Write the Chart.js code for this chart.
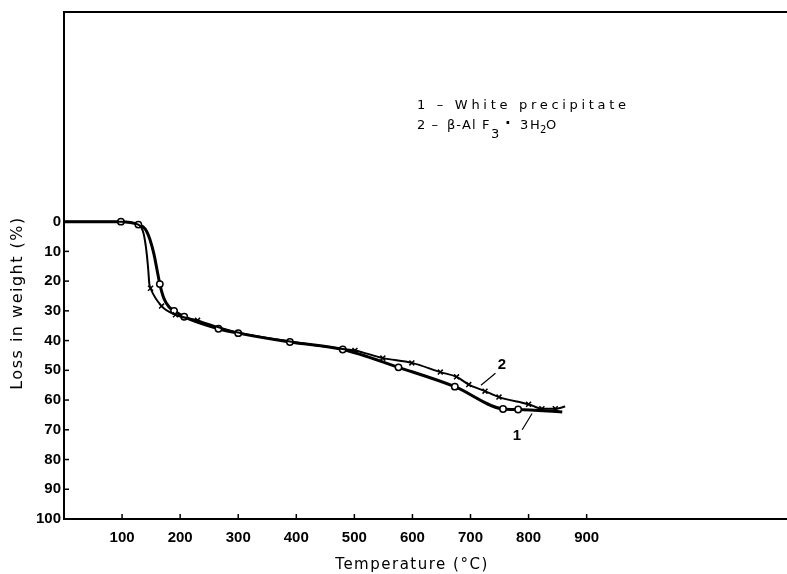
<!DOCTYPE html>
<html>
<head>
<meta charset="utf-8">
<script src="https://cdn.jsdelivr.net/npm/chart.js@4"></script>
<style>
  html, body { margin: 0; padding: 0; background: #fff; }
  canvas { display: block; }
</style>
</head>
<body>
<canvas id="tga" width="787" height="574"></canvas>
<script>
// Curva 1 - precipitado blanco (círculos)
const temp1 = [0, 98, 128, 140, 148, 155, 160, 165, 172, 181, 189.5, 207, 266, 300, 389, 480, 576, 673, 756, 782, 858];
const loss1 = [0, 0, 1, 2.5, 6, 11, 16, 21, 25.8, 28.7, 30, 32, 36, 37.5, 40.5, 43, 49, 55.5, 63, 63.2, 64];
const plain1 = [0, 140, 148, 155, 160, 172, 181, 858];

// Curva 2 - beta-AlF3·3H2O (cruces)
const temp2 = [0, 98, 128, 137, 142, 145, 147, 149, 168, 192, 230, 266, 300, 389, 480, 501, 549, 599, 648, 676, 697, 725, 749, 800, 823, 846, 863];
const loss2 = [0, 0, 1, 4, 10, 16, 21, 22.4, 28.4, 31.3, 33.2, 35.5, 37.3, 40.3, 42.8, 43.3, 45.9, 47.5, 50.6, 52.2, 54.8, 57, 59, 61.4, 62.9, 62.9, 62.2];
const plain2 = [0, 98, 128, 137, 142, 145, 147, 266, 300, 389, 480, 863];

// Ejes
const xTickLabels = [100, 200, 300, 400, 500, 600, 700, 800, 900];
const yTickLabels = [0, 10, 20, 30, 40, 50, 60, 70, 80, 90, 100];

const tickFont = { family: 'Liberation Sans', size: 15, weight: 'bold' };

// Dibujar marcas interiores, borde superior, títulos y leyenda
const extras = {
    id: 'extras',
    afterDraw(chart) {
        const ctx = chart.ctx;
        const area = chart.chartArea;
        const xs = chart.scales.x;
        const ys = chart.scales.y;
        ctx.save();
        ctx.strokeStyle = '#000';
        ctx.fillStyle = '#000';

        // borde superior
        ctx.lineWidth = 2;
        ctx.beginPath();
        ctx.moveTo(area.left, area.top);
        ctx.lineTo(area.right, area.top);
        ctx.stroke();

        // marcas hacia adentro
        ctx.lineWidth = 1.5;
        xTickLabels.forEach(v => {
            const px = xs.getPixelForValue(v);
            ctx.beginPath();
            ctx.moveTo(px, area.bottom);
            ctx.lineTo(px, area.bottom - 5);
            ctx.stroke();
        });
        yTickLabels.forEach(v => {
            const py = ys.getPixelForValue(v);
            ctx.beginPath();
            ctx.moveTo(area.left, py);
            ctx.lineTo(area.left + 5, py);
            ctx.stroke();
        });

        // títulos de ejes
        ctx.font = '15px "DejaVu Sans"';
        ctx.letterSpacing = '1.5px';
        ctx.textAlign = 'center';
        ctx.textBaseline = 'middle';
        ctx.fillText('Temperature (°C)', 412, 565);
        ctx.save();
        ctx.translate(18, 303);
        ctx.rotate(-Math.PI / 2);
        ctx.font = '16px "DejaVu Sans"';
        ctx.letterSpacing = '1.5px';
        ctx.fillText('Loss in weight (%)', 0, 0);
        ctx.restore();

        // leyenda
        ctx.textAlign = 'left';
        ctx.textBaseline = 'alphabetic';
        ctx.font = '13px "DejaVu Sans"';
        ctx.letterSpacing = '3.7px';
        ctx.fillText('1 – White precipitate', 417, 109);
        ctx.letterSpacing = '1px';
        ctx.fillText('2 –', 417, 129);
        ctx.fillText('β-Al', 447, 129);
        ctx.fillText('F', 482, 129);
        ctx.fillText('3', 491, 138);
        ctx.font = 'bold 15px "DejaVu Sans"';
        ctx.fillText('·', 505, 128);
        ctx.font = '13px "DejaVu Sans"';
        ctx.fillText('3', 520, 129);
        ctx.fillText('H', 530, 129);
        ctx.font = '10px "DejaVu Sans"';
        ctx.fillText('2', 540, 133);
        ctx.font = '13px "DejaVu Sans"';
        ctx.fillText('O', 546, 129);

        // etiquetas de curvas con líneas guía
        ctx.letterSpacing = '0px';
        ctx.font = 'bold 15px "Liberation Sans"';
        ctx.textAlign = 'center';
        ctx.textBaseline = 'middle';
        ctx.fillText('2', xs.getPixelForValue(754), ys.getPixelForValue(48));
        ctx.fillText('1', xs.getPixelForValue(780), ys.getPixelForValue(72));
        ctx.lineWidth = 1.2;
        ctx.beginPath();
        ctx.moveTo(xs.getPixelForValue(743), ys.getPixelForValue(51));
        ctx.lineTo(xs.getPixelForValue(718), ys.getPixelForValue(55));
        ctx.moveTo(xs.getPixelForValue(806), ys.getPixelForValue(64.5));
        ctx.lineTo(xs.getPixelForValue(789), ys.getPixelForValue(70));
        ctx.stroke();

        ctx.restore();
    }
};

new Chart(document.getElementById('tga'), {
    type: 'line',
    data: {
        datasets: [
            {
                label: '2',
                data: temp2.map((t, i) => ({ x: t, y: loss2[i] })),
                borderColor: '#000',
                borderWidth: 2,
                backgroundColor: '#000',
                cubicInterpolationMode: 'monotone',
                pointStyle: 'crossRot',
                pointRadius: c => plain2.includes(temp2[c.dataIndex]) ? 0 : 3.5,
                pointBorderWidth: 1.5,
                pointBorderColor: '#000'
            },
            {
                label: '1',
                data: temp1.map((t, i) => ({ x: t, y: loss1[i] })),
                borderColor: '#000',
                borderWidth: 3,
                backgroundColor: '#fff',
                cubicInterpolationMode: 'monotone',
                pointStyle: 'circle',
                pointRadius: c => plain1.includes(temp1[c.dataIndex]) ? 0 : 3.2,
                pointBorderWidth: 1.5,
                pointBorderColor: '#000',
                pointBackgroundColor: '#fff'
            }
        ]
    },
    options: {
        responsive: false,
        animation: false,
        events: [],
        layout: { padding: { top: 11, right: 0, left: 0, bottom: 0 } },
        plugins: {
            legend: { display: false },
            tooltip: { enabled: false }
        },
        scales: {
            x: {
                type: 'linear',
                min: 0,
                max: 1245,
                grid: { display: false, drawTicks: false },
                border: { display: true, color: '#000', width: 2 },
                ticks: {
                    stepSize: 100,
                    autoSkip: false,
                    maxRotation: 0,
                    padding: 10,
                    color: '#000',
                    font: tickFont,
                    callback: v => xTickLabels.includes(v) ? String(v) : ''
                },
                afterFit: s => {
                    s.height = 55;
                    s.paddingLeft = 0;
                    s.paddingRight = 0;
                }
            },
            y: {
                type: 'linear',
                reverse: true,
                min: -70.5,
                max: 100,
                grid: { display: false, drawTicks: false },
                border: { display: true, color: '#000', width: 2 },
                ticks: {
                    stepSize: 10,
                    autoSkip: false,
                    padding: 3,
                    color: '#000',
                    font: tickFont,
                    callback: v => yTickLabels.includes(v) ? String(v) : ''
                },
                afterFit: s => { s.width = 64; }
            }
        }
    },
    plugins: [extras]
});
</script>
</body>
</html>
